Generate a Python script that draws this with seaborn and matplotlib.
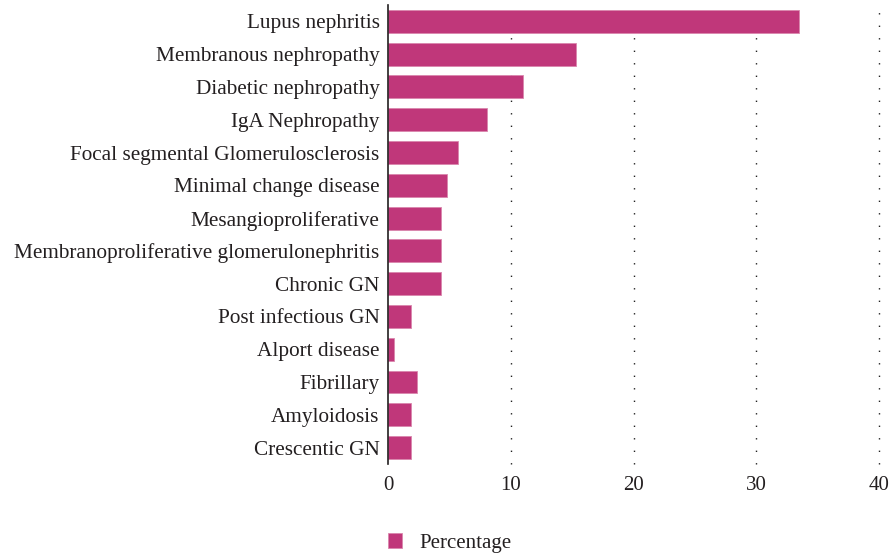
import pandas as pd
import seaborn as sns
import matplotlib.pyplot as plt

# Dados
categorias = [
    "Lupus nephritis",
    "Membranous nephropathy",
    "Diabetic nephropathy",
    "IgA Nephropathy",
    "Focal segmental Glomerulosclerosis",
    "Minimal change disease",
    "Mesangioproliferative",
    "Membranoproliferative glomerulonephritis",
    "Chronic GN",
    "Post infectious GN",
    "Alport disease",
    "Fibrillary",
    "Amyloidosis",
    "Crescentic GN",
]
percentagens = [33.5, 15.3, 11.0, 8.1, 5.7, 4.8, 4.3, 4.3, 4.3, 1.9, 0.5, 2.4, 1.9, 1.9]
x_ticks = [0, 10, 20, 30, 40]

COR_BARRA = "#C0377A"
COR_TEXTO = "#231F20"

df = pd.DataFrame({"categoria": categorias, "Percentage": percentagens})

sns.set_style("white")
plt.rcParams["font.family"] = ["Liberation Serif", "DejaVu Serif"]

fig = plt.figure(figsize=(8.89, 5.55), dpi=100)
ax = fig.add_axes([0.4364, 0.164, 0.5524, 0.827])

sns.barplot(
    data=df,
    y="categoria",
    x="Percentage",
    color=COR_BARRA,
    saturation=1,
    width=0.7,
    orient="h",
    ax=ax,
    label="Percentage",
    edgecolor="#DA86AD",
    linewidth=0.6,
)

ax.set_xlim(0, 40)
ax.set_ylim(13.5, -0.5)
ax.set_xticks(x_ticks)
ax.set_xlabel("")
ax.set_ylabel("")
ax.tick_params(axis="both", length=0, labelsize=15.3, colors=COR_TEXTO, pad=6)
ax.tick_params(axis="x", labelsize=15, pad=9)

# grade vertical pontilhada
for v in x_ticks[1:]:
    ax.axvline(v, color="#222222", linestyle=(0, (1, 8)), linewidth=1.0,
               zorder=0, clip_on=False)

for lado in ["top", "right", "bottom"]:
    ax.spines[lado].set_visible(False)
ax.spines["left"].set_color("#231F20")
ax.spines["left"].set_linewidth(1.2)

ax.legend(
    loc="upper center",
    bbox_to_anchor=(0.125, -0.11),
    frameon=False,
    fontsize=15,
    handlelength=0.7,
    handleheight=0.7,
    handletextpad=0.8,
    labelcolor=COR_TEXTO,
)

fig.savefig("out.png", dpi=100)
